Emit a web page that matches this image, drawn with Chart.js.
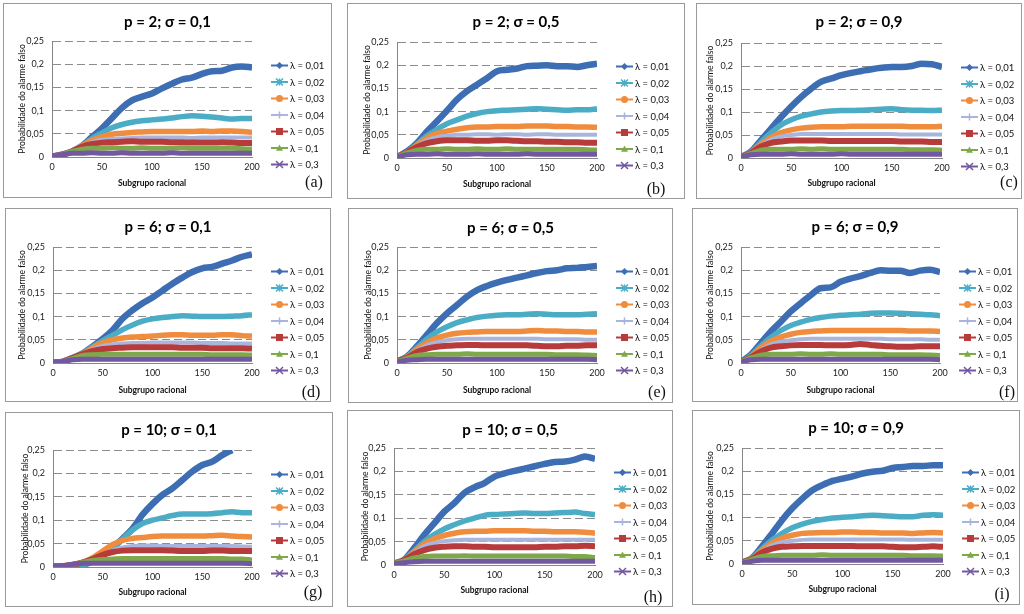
<!DOCTYPE html>
<html><head><meta charset="utf-8">
<script src="https://cdn.jsdelivr.net/npm/chart.js@4.4.1/dist/chart.umd.min.js"></script>
<style>
html,body{margin:0;padding:0;background:#fff;width:1024px;height:614px;overflow:hidden;font-family:Lato,sans-serif}
.panel{position:absolute;border:1px solid #9a9a9a;background:#fff;box-sizing:border-box}
.panel canvas{position:absolute;left:0;top:0}
</style></head><body>
<script>
// ---------- DATA ----------
const xValues = [0,10,20,30,40,50,60,70,80,90,100,110,120,130,140,150,160,170,180,190,200];
const xTickLabels = ['0','50','100','150','200'];
const yTickLabels = ['0','0,05','0,1','0,15','0,2','0,25'];
const lambdaLabels = ['λ = 0,01','λ = 0,02','λ = 0,03','λ = 0,04','λ = 0,05','λ = 0,1','λ = 0,3'];
const panelTitles = ['p = 2; σ = 0,1','p = 2; σ = 0,5','p = 2; σ = 0,9','p = 6; σ = 0,1','p = 6; σ = 0,5','p = 6; σ = 0,9','p = 10; σ = 0,1','p = 10; σ = 0,5','p = 10; σ = 0,9'];
const panelTags = ['(a)','(b)','(c)','(d)','(e)','(f)','(g)','(h)','(i)'];
const yAxisTitle = 'Probabilidade do alarme falso';
const xAxisTitle = 'Subgrupo racional';

const seriesA = [
 [0.001,0.005,0.012,0.024,0.043,0.062,0.084,0.106,0.122,0.130,0.137,0.148,0.158,0.167,0.171,0.179,0.185,0.186,0.193,0.195,0.193],
 [0.001,0.005,0.012,0.024,0.040,0.052,0.063,0.070,0.075,0.078,0.080,0.082,0.084,0.087,0.089,0.088,0.086,0.084,0.082,0.083,0.083],
 [0.001,0.005,0.012,0.024,0.036,0.044,0.049,0.051,0.053,0.054,0.055,0.055,0.055,0.055,0.055,0.056,0.055,0.056,0.056,0.055,0.053],
 [0.001,0.005,0.012,0.023,0.032,0.037,0.039,0.040,0.041,0.042,0.042,0.042,0.042,0.042,0.041,0.042,0.042,0.042,0.042,0.042,0.042],
 [0.001,0.005,0.012,0.022,0.028,0.031,0.032,0.033,0.034,0.033,0.033,0.033,0.032,0.032,0.031,0.031,0.031,0.032,0.031,0.030,0.030],
 [0.001,0.005,0.012,0.017,0.019,0.019,0.020,0.019,0.019,0.020,0.019,0.019,0.019,0.020,0.019,0.019,0.019,0.019,0.019,0.018,0.017],
 [0.001,0.005,0.008,0.008,0.009,0.008,0.008,0.009,0.008,0.008,0.008,0.008,0.009,0.008,0.008,0.008,0.008,0.008,0.008,0.008,0.008]
];
const seriesB = [
 [0.002,0.014,0.032,0.057,0.079,0.102,0.126,0.144,0.158,0.172,0.187,0.190,0.193,0.198,0.199,0.200,0.198,0.198,0.196,0.200,0.203],
 [0.002,0.013,0.030,0.048,0.062,0.074,0.082,0.090,0.096,0.100,0.102,0.103,0.104,0.105,0.106,0.105,0.104,0.103,0.104,0.104,0.106],
 [0.002,0.012,0.028,0.043,0.053,0.058,0.062,0.065,0.067,0.067,0.068,0.068,0.068,0.069,0.069,0.069,0.068,0.068,0.067,0.067,0.066],
 [0.002,0.012,0.026,0.038,0.045,0.048,0.050,0.050,0.051,0.051,0.050,0.051,0.051,0.050,0.051,0.051,0.050,0.050,0.050,0.050,0.050],
 [0.002,0.012,0.024,0.032,0.036,0.038,0.038,0.038,0.037,0.037,0.038,0.038,0.037,0.036,0.036,0.035,0.035,0.034,0.034,0.033,0.033],
 [0.002,0.011,0.017,0.019,0.019,0.020,0.019,0.019,0.020,0.019,0.019,0.020,0.019,0.019,0.019,0.019,0.019,0.019,0.019,0.018,0.017],
 [0.002,0.007,0.008,0.008,0.009,0.008,0.008,0.008,0.009,0.008,0.008,0.008,0.008,0.009,0.008,0.008,0.008,0.008,0.008,0.008,0.008]
];
const seriesC = [
 [0.002,0.014,0.039,0.064,0.089,0.112,0.133,0.151,0.166,0.173,0.180,0.185,0.189,0.193,0.196,0.198,0.198,0.200,0.205,0.204,0.198],
 [0.002,0.013,0.035,0.055,0.072,0.083,0.091,0.096,0.100,0.102,0.103,0.103,0.104,0.105,0.106,0.107,0.105,0.104,0.104,0.103,0.104],
 [0.002,0.012,0.030,0.045,0.055,0.061,0.065,0.067,0.068,0.068,0.068,0.069,0.069,0.069,0.069,0.069,0.069,0.068,0.068,0.068,0.069],
 [0.002,0.012,0.027,0.040,0.047,0.050,0.052,0.052,0.052,0.052,0.052,0.052,0.052,0.052,0.052,0.052,0.051,0.051,0.051,0.051,0.051],
 [0.002,0.011,0.025,0.033,0.036,0.038,0.038,0.038,0.038,0.037,0.037,0.037,0.037,0.037,0.037,0.037,0.036,0.036,0.036,0.035,0.035],
 [0.002,0.010,0.017,0.019,0.019,0.019,0.020,0.019,0.020,0.019,0.019,0.019,0.019,0.019,0.019,0.019,0.019,0.018,0.018,0.018,0.017],
 [0.002,0.007,0.008,0.008,0.008,0.009,0.008,0.008,0.008,0.008,0.009,0.008,0.008,0.008,0.008,0.008,0.008,0.008,0.008,0.008,0.008]
];
const seriesD = [
 [0.001,0.003,0.011,0.021,0.036,0.052,0.071,0.096,0.114,0.129,0.141,0.156,0.171,0.184,0.196,0.204,0.207,0.214,0.221,0.229,0.234],
 [0.001,0.003,0.011,0.021,0.035,0.048,0.060,0.072,0.082,0.090,0.095,0.098,0.100,0.102,0.101,0.100,0.100,0.100,0.101,0.102,0.104],
 [0.001,0.003,0.011,0.020,0.033,0.044,0.050,0.054,0.056,0.057,0.058,0.060,0.061,0.061,0.060,0.060,0.060,0.061,0.061,0.059,0.058],
 [0.001,0.003,0.011,0.020,0.030,0.037,0.040,0.042,0.043,0.043,0.044,0.044,0.044,0.044,0.044,0.043,0.043,0.043,0.042,0.042,0.042],
 [0.001,0.003,0.011,0.019,0.026,0.030,0.032,0.033,0.034,0.034,0.034,0.034,0.034,0.033,0.033,0.033,0.032,0.032,0.032,0.032,0.031],
 [0.001,0.003,0.010,0.016,0.018,0.019,0.019,0.019,0.019,0.019,0.019,0.019,0.019,0.019,0.019,0.019,0.018,0.018,0.018,0.018,0.017],
 [0.001,0.003,0.007,0.008,0.008,0.008,0.008,0.008,0.008,0.008,0.008,0.008,0.008,0.008,0.008,0.008,0.008,0.008,0.008,0.008,0.008]
];
const seriesE = [
 [0.003,0.014,0.036,0.061,0.086,0.107,0.125,0.143,0.157,0.166,0.173,0.179,0.184,0.189,0.194,0.198,0.200,0.204,0.205,0.207,0.209],
 [0.003,0.013,0.033,0.052,0.067,0.078,0.087,0.093,0.098,0.101,0.103,0.104,0.104,0.105,0.106,0.105,0.104,0.104,0.104,0.105,0.106],
 [0.003,0.012,0.030,0.044,0.054,0.060,0.064,0.066,0.067,0.068,0.068,0.068,0.068,0.069,0.070,0.069,0.069,0.068,0.068,0.067,0.067],
 [0.003,0.012,0.027,0.038,0.045,0.049,0.051,0.052,0.052,0.052,0.052,0.052,0.052,0.052,0.052,0.051,0.051,0.051,0.051,0.050,0.050],
 [0.003,0.011,0.024,0.031,0.035,0.037,0.038,0.039,0.039,0.038,0.038,0.038,0.038,0.038,0.037,0.036,0.036,0.037,0.037,0.038,0.038],
 [0.003,0.010,0.016,0.018,0.019,0.019,0.019,0.020,0.019,0.019,0.019,0.019,0.019,0.019,0.019,0.019,0.018,0.018,0.018,0.017,0.016],
 [0.002,0.006,0.007,0.008,0.008,0.008,0.008,0.008,0.008,0.008,0.008,0.008,0.008,0.008,0.008,0.008,0.008,0.008,0.008,0.008,0.007]
];
const seriesF = [
 [0.002,0.018,0.043,0.068,0.089,0.111,0.129,0.146,0.161,0.163,0.175,0.182,0.187,0.194,0.200,0.199,0.199,0.194,0.199,0.201,0.196],
 [0.002,0.016,0.037,0.055,0.070,0.081,0.088,0.094,0.098,0.101,0.103,0.104,0.105,0.107,0.108,0.108,0.107,0.106,0.105,0.104,0.102],
 [0.002,0.014,0.033,0.047,0.056,0.062,0.066,0.068,0.069,0.070,0.070,0.070,0.070,0.070,0.070,0.070,0.070,0.069,0.069,0.069,0.068],
 [0.002,0.013,0.028,0.040,0.046,0.049,0.051,0.052,0.052,0.052,0.052,0.052,0.052,0.052,0.052,0.051,0.051,0.051,0.051,0.050,0.050],
 [0.002,0.012,0.025,0.033,0.036,0.038,0.039,0.039,0.039,0.038,0.038,0.039,0.041,0.039,0.037,0.036,0.035,0.035,0.036,0.036,0.036],
 [0.002,0.011,0.017,0.019,0.019,0.019,0.020,0.019,0.019,0.020,0.019,0.019,0.019,0.019,0.019,0.018,0.018,0.018,0.018,0.017,0.016],
 [0.002,0.007,0.008,0.008,0.008,0.008,0.008,0.008,0.008,0.008,0.008,0.008,0.008,0.008,0.008,0.008,0.008,0.008,0.008,0.008,0.007]
];
const seriesG = [
 [0.001,0.001,0.002,0.005,0.012,0.025,0.040,0.061,0.082,0.112,0.135,0.154,0.168,0.186,0.204,0.218,0.225,0.239,0.250,null,null],
 [0.001,0.001,0.002,0.005,0.012,0.025,0.040,0.060,0.079,0.093,0.100,0.105,0.110,0.113,0.113,0.113,0.114,0.116,0.118,0.116,0.116],
 [0.001,0.002,0.005,0.010,0.020,0.034,0.048,0.057,0.061,0.063,0.065,0.066,0.066,0.066,0.066,0.066,0.067,0.068,0.066,0.065,0.064],
 [0.001,0.002,0.005,0.010,0.018,0.027,0.036,0.042,0.045,0.046,0.046,0.045,0.045,0.045,0.045,0.045,0.045,0.045,0.045,0.044,0.043],
 [0.001,0.002,0.005,0.010,0.017,0.026,0.032,0.035,0.036,0.036,0.036,0.036,0.035,0.034,0.034,0.034,0.035,0.035,0.034,0.034,0.034],
 [0.001,0.002,0.005,0.010,0.014,0.016,0.017,0.018,0.018,0.018,0.018,0.018,0.018,0.018,0.018,0.018,0.018,0.018,0.017,0.017,0.015],
 [0.001,0.003,0.006,0.008,0.008,0.008,0.008,0.008,0.008,0.008,0.008,0.008,0.008,0.008,0.008,0.008,0.008,0.008,0.008,0.008,0.007]
];
const seriesH = [
 [0.003,0.011,0.036,0.064,0.089,0.114,0.132,0.154,0.166,0.175,0.189,0.196,0.201,0.206,0.211,0.216,0.220,0.221,0.225,0.232,0.227],
 [0.003,0.011,0.030,0.050,0.065,0.077,0.086,0.094,0.100,0.106,0.108,0.109,0.110,0.111,0.110,0.110,0.111,0.112,0.113,0.110,0.108],
 [0.003,0.010,0.028,0.045,0.056,0.063,0.068,0.071,0.072,0.072,0.073,0.073,0.073,0.073,0.072,0.072,0.071,0.071,0.071,0.070,0.068],
 [0.003,0.010,0.026,0.040,0.047,0.051,0.053,0.054,0.054,0.054,0.054,0.054,0.054,0.054,0.054,0.054,0.054,0.054,0.054,0.054,0.054],
 [0.003,0.010,0.023,0.032,0.037,0.039,0.040,0.040,0.039,0.039,0.038,0.038,0.038,0.038,0.038,0.039,0.039,0.040,0.040,0.041,0.040],
 [0.003,0.009,0.015,0.018,0.019,0.019,0.019,0.020,0.019,0.019,0.019,0.019,0.019,0.019,0.019,0.019,0.019,0.019,0.018,0.018,0.016],
 [0.002,0.005,0.007,0.008,0.008,0.008,0.008,0.008,0.008,0.008,0.008,0.008,0.008,0.008,0.008,0.008,0.008,0.008,0.008,0.008,0.008]
];
const seriesI = [
 [0.003,0.013,0.038,0.066,0.095,0.120,0.141,0.159,0.170,0.179,0.184,0.189,0.195,0.199,0.201,0.207,0.209,0.211,0.211,0.213,0.213],
 [0.003,0.013,0.033,0.052,0.066,0.078,0.086,0.092,0.096,0.099,0.101,0.102,0.104,0.105,0.104,0.103,0.102,0.102,0.105,0.106,0.105],
 [0.003,0.012,0.030,0.045,0.056,0.062,0.066,0.067,0.068,0.068,0.069,0.069,0.068,0.068,0.067,0.067,0.067,0.066,0.067,0.068,0.067],
 [0.003,0.011,0.027,0.040,0.047,0.050,0.052,0.053,0.053,0.053,0.053,0.053,0.053,0.053,0.053,0.053,0.053,0.052,0.052,0.052,0.052],
 [0.003,0.011,0.025,0.033,0.037,0.038,0.039,0.039,0.039,0.039,0.039,0.039,0.038,0.038,0.038,0.037,0.036,0.036,0.037,0.038,0.037],
 [0.003,0.010,0.016,0.018,0.019,0.019,0.019,0.019,0.020,0.019,0.019,0.019,0.019,0.019,0.019,0.019,0.019,0.018,0.018,0.018,0.017],
 [0.002,0.006,0.008,0.008,0.008,0.008,0.008,0.008,0.008,0.008,0.008,0.008,0.008,0.008,0.008,0.008,0.008,0.008,0.008,0.008,0.008]
];
const panelSeries = [seriesA, seriesB, seriesC, seriesD, seriesE, seriesF, seriesG, seriesH, seriesI];

// ---------- STYLE ----------
const seriesColors = ['#3D6DB3','#4BACC6','#F08C3E','#A9B5DC','#B83B3B','#7FA84A','#7258A0'];
const seriesMarkers = ['diamond','star','circle','plus','square','triangle','x'];
const seriesWidths = [6.5,5.5,5.5,4,6,5,5];

// layout: box [x0,y0,x1,y1], plot [L,T,R,B], title centre y, axis-title centres, tag centre
const layouts = [
 {box:[3,3,332,198],   plot:[52,41,252,157],  titleY:22,  xtY:183, ytX:22,  tag:[314,183]},
 {box:[347,3,685,199], plot:[397,42,597,158], titleY:22,  xtY:184, ytX:367, tag:[656,190]},
 {box:[696,3,1022,199],plot:[741,43,942,158], titleY:22,  xtY:183, ytX:710, tag:[1009,183]},
 {box:[5,208,331,402], plot:[53,247,252,363], titleY:227, xtY:390, ytX:22,  tag:[311,393]},
 {box:[348,208,673,403],plot:[397,247,597,363],titleY:228, xtY:390, ytX:368, tag:[657,393]},
 {box:[692,208,1018,402],plot:[741,247,940,363],titleY:227,xtY:390, ytX:710, tag:[1007,393]},
 {box:[5,412,333,607], plot:[53,450,252,567], titleY:430, xtY:592, ytX:25,  tag:[313,593]},
 {box:[347,410,673,607],plot:[394,448,595,565],titleY:430, xtY:590, ytX:365, tag:[653,598]},
 {box:[692,410,1020,605],plot:[742,448,943,564],titleY:428,xtY:589, ytX:710, tag:[1002,595]}
];

Chart.defaults.font.family = 'Lato, "Open Sans", sans-serif';
Chart.defaults.color = '#222';

function drawMarker(ctx, kind, x, y, r, color){
  ctx.save();
  ctx.fillStyle = color; ctx.strokeStyle = color; ctx.lineWidth = 1.5;
  ctx.beginPath();
  if (kind === 'diamond'){ ctx.moveTo(x, y-r); ctx.lineTo(x+r, y); ctx.lineTo(x, y+r); ctx.lineTo(x-r, y); ctx.closePath(); ctx.fill(); }
  else if (kind === 'circle'){ ctx.arc(x, y, r, 0, Math.PI*2); ctx.fill(); }
  else if (kind === 'square'){ ctx.rect(x-r, y-r, 2*r, 2*r); ctx.fill(); }
  else if (kind === 'triangle'){ ctx.moveTo(x, y-r); ctx.lineTo(x+r, y+r*0.8); ctx.lineTo(x-r, y+r*0.8); ctx.closePath(); ctx.fill(); }
  else if (kind === 'plus'){ ctx.moveTo(x-r, y); ctx.lineTo(x+r, y); ctx.moveTo(x, y-r); ctx.lineTo(x, y+r); ctx.stroke(); }
  else if (kind === 'x'){ ctx.moveTo(x-r, y-r); ctx.lineTo(x+r, y+r); ctx.moveTo(x+r, y-r); ctx.lineTo(x-r, y+r); ctx.stroke(); }
  else if (kind === 'star'){ ctx.moveTo(x-r, y-r); ctx.lineTo(x+r, y+r); ctx.moveTo(x+r, y-r); ctx.lineTo(x-r, y+r); ctx.moveTo(x, y-r); ctx.lineTo(x, y+r); ctx.stroke(); }
  ctx.restore();
}

const overlayPlugin = {
  id: 'overlay',
  afterDraw(chart, args, opts){
    const {ctx, chartArea} = chart;
    chart.data.datasets.forEach((ds, i) => {
      const y = chartArea.top + 24.5 + i * 16.5;
      const x0 = chartArea.right + 19;
      ctx.save();
      ctx.strokeStyle = ds.borderColor; ctx.lineWidth = 2;
      ctx.beginPath(); ctx.moveTo(x0, y); ctx.lineTo(x0 + 17, y); ctx.stroke();
      drawMarker(ctx, ds.marker, x0 + 8.5, y, 3.5, ds.borderColor);
      ctx.fillStyle = '#111'; ctx.font = '9.5px Lato'; ctx.textBaseline = 'middle'; ctx.textAlign = 'left';
      ctx.fillText(ds.label, x0 + 19, y + 0.5);
      ctx.restore();
    });
    ctx.save();
    ctx.fillStyle = '#111'; ctx.font = '16px "Liberation Serif", serif';
    ctx.textAlign = 'center'; ctx.textBaseline = 'middle';
    ctx.fillText(opts.tag, opts.tagX, opts.tagY);
    ctx.restore();
  }
};

layouts.forEach((lay, p) => {
  const [x0, y0, x1, y1] = lay.box;
  const [L, T, R, B] = lay.plot;
  const div = document.createElement('div');
  div.className = 'panel';
  div.style.left = x0 + 'px'; div.style.top = y0 + 'px';
  div.style.width = (x1 - x0) + 'px'; div.style.height = (y1 - y0) + 'px';
  document.body.appendChild(div);
  const cw = x1 - x0 - 2, ch = y1 - y0 - 2;
  const ox = x0 + 1, oy = y0 + 1;
  const cv = document.createElement('canvas');
  cv.width = cw; cv.height = ch;
  cv.style.width = cw + 'px'; cv.style.height = ch + 'px';
  div.appendChild(cv);

  const titleSize = 15, titleLH = titleSize * 1.2;
  const tPadTop = lay.titleY - oy - titleLH / 2;
  const tPadBot = (T - oy) - tPadTop - titleLH;
  const xtSize = 8.5, xtLH = xtSize * 1.2;
  const ytSize = 8.5, ytLH = ytSize * 1.2;

  const datasets = panelSeries[p].map((vals, i) => ({
    label: lambdaLabels[i],
    data: xValues.map((x, k) => ({x: x, y: vals[k]})),
    borderColor: seriesColors[i],
    backgroundColor: seriesColors[i],
    borderWidth: seriesWidths[i],
    pointRadius: 0,
    cubicInterpolationMode: 'monotone',
    spanGaps: false,
    marker: seriesMarkers[i],
    order: 6 - i
  }));

  new Chart(cv, {
    type: 'line',
    data: { datasets },
    plugins: [overlayPlugin],
    options: {
      responsive: false,
      animation: false,
      devicePixelRatio: 1,
      layout: { padding: 0 },
      plugins: {
        legend: { display: false },
        tooltip: { enabled: false },
        title: {
          display: true, text: panelTitles[p], color: '#000',
          font: { size: titleSize, weight: 'bold' },
          padding: { top: tPadTop, bottom: tPadBot }
        },
        overlay: { tag: panelTags[p], tagX: lay.tag[0] - ox, tagY: lay.tag[1] - oy }
      },
      scales: {
        x: {
          type: 'linear', min: 0, max: 200,
          grid: { display: false, drawTicks: false },
          border: { display: true, color: '#868686', width: 1 },
          ticks: { stepSize: 50, padding: 5, color: '#222', font: { size: 9 },
                   maxRotation: 0, callback: (v, i) => xTickLabels[i] },
          title: { display: true, text: xAxisTitle, color: '#111',
                   font: { size: xtSize, weight: 'bold' },
                   padding: { top: 0, bottom: (oy + ch) - lay.xtY - xtLH / 2 } },
          afterFit: s => { s.height = (oy + ch) - B; }
        },
        y: {
          type: 'linear', min: 0, max: 0.25,
          grid: { drawTicks: false, lineWidth: 1,
                  color: c => (c.tick && c.tick.value === 0) ? 'rgba(0,0,0,0)' : '#8c8c8c' },
          border: { display: true, color: '#868686', width: 1, dash: [8, 4] },
          ticks: { stepSize: 0.05, padding: 8, color: '#222', font: { size: 9 },
                   callback: (v, i) => yTickLabels[i] },
          title: { display: true, text: yAxisTitle, color: '#111',
                   font: { size: ytSize },
                   padding: { top: lay.ytX - ox - ytLH / 2, bottom: 0 } },
          afterFit: s => { s.width = L - ox; }
        },
        legendSpace: {
          type: 'linear', position: 'right', min: 0, max: 1,
          grid: { display: false, drawTicks: false },
          border: { display: false },
          ticks: { display: false },
          afterFit: s => { s.width = (ox + cw) - R; }
        }
      }
    }
  });
});
</script>
</body></html>
